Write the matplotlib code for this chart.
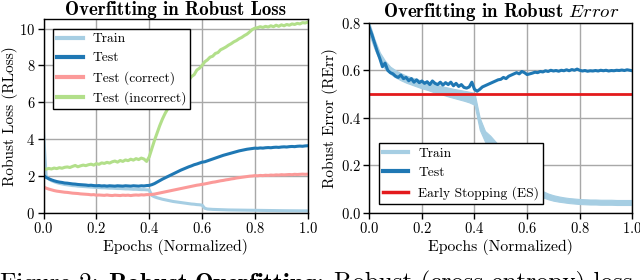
import numpy as np
import matplotlib
matplotlib.use("Agg")
import matplotlib.pyplot as plt
from matplotlib.lines import Line2D

plt.rcParams['font.family'] = ['cmr10', 'DejaVu Serif']
plt.rcParams['mathtext.fontset'] = 'cm'
plt.rcParams['axes.formatter.use_mathtext'] = True

epochs = np.linspace(0, 1, 101)
band_epochs = np.linspace(0, 1, 51)

loss_train = [4.35, 2.00, 1.85, 1.76, 1.70, 1.65, 1.61, 1.58, 1.55, 1.53,
              1.51, 1.49, 1.48, 1.46, 1.45, 1.44, 1.43, 1.42, 1.41, 1.40,
              1.39, 1.38, 1.37, 1.37, 1.36, 1.35, 1.35, 1.34, 1.33, 1.33,
              1.32, 1.31, 1.31, 1.30, 1.29, 1.29, 1.28, 1.27, 1.27, 1.26,
              1.25, 0.95, 0.88, 0.83, 0.79, 0.75, 0.72, 0.69, 0.66, 0.63,
              0.61, 0.59, 0.57, 0.55, 0.53, 0.51, 0.49, 0.48, 0.46, 0.45,
              0.43, 0.26, 0.22, 0.21, 0.20, 0.195, 0.19, 0.185, 0.18, 0.175,
              0.17, 0.168, 0.166, 0.164, 0.162, 0.16, 0.158, 0.156, 0.154, 0.152,
              0.15, 0.148, 0.146, 0.144, 0.142, 0.14, 0.138, 0.136, 0.134, 0.132,
              0.13, 0.128, 0.127, 0.126, 0.125, 0.124, 0.123, 0.122, 0.121, 0.12, 0.12]

loss_test = [2.05, 1.93, 1.86, 1.80, 1.75, 1.71, 1.68, 1.66, 1.63, 1.62,
             1.60, 1.58, 1.57, 1.55, 1.54, 1.53, 1.52, 1.50, 1.51, 1.49,
             1.48, 1.49, 1.47, 1.48, 1.46, 1.48, 1.47, 1.46, 1.48, 1.47,
             1.46, 1.48, 1.47, 1.46, 1.48, 1.47, 1.46, 1.48, 1.47, 1.49,
             1.50, 1.54, 1.60, 1.68, 1.76, 1.84, 1.91, 1.98, 2.05, 2.12,
             2.19, 2.26, 2.33, 2.39, 2.45, 2.51, 2.56, 2.62, 2.66, 2.71,
             2.76, 2.78, 2.83, 2.88, 2.93, 2.98, 3.03, 3.08, 3.13, 3.17,
             3.21, 3.25, 3.29, 3.33, 3.37, 3.40, 3.43, 3.46, 3.48, 3.50,
             3.52, 3.51, 3.53, 3.52, 3.54, 3.55, 3.54, 3.56, 3.57, 3.56,
             3.58, 3.59, 3.58, 3.60, 3.61, 3.60, 3.62, 3.63, 3.62, 3.64, 3.65]

loss_correct = [1.42, 1.35, 1.30, 1.26, 1.22, 1.19, 1.17, 1.15, 1.13, 1.12,
                1.10, 1.08, 1.07, 1.06, 1.04, 1.03, 1.02, 1.01, 0.99, 1.00,
                0.97, 0.98, 0.97, 0.96, 0.98, 0.96, 0.95, 0.97, 0.96, 0.95,
                0.97, 0.96, 0.97, 0.95, 0.97, 0.98, 0.97, 0.99, 0.98, 1.00,
                1.00, 1.01, 1.03, 1.06, 1.09, 1.12, 1.15, 1.18, 1.21, 1.24,
                1.27, 1.30, 1.33, 1.36, 1.39, 1.42, 1.45, 1.48, 1.51, 1.53,
                1.56, 1.58, 1.61, 1.64, 1.67, 1.69, 1.72, 1.75, 1.77, 1.80,
                1.82, 1.85, 1.87, 1.90, 1.92, 1.94, 1.96, 1.98, 2.00, 2.01,
                2.03, 2.02, 2.04, 2.03, 2.05, 2.04, 2.06, 2.05, 2.07, 2.06,
                2.08, 2.07, 2.08, 2.09, 2.08, 2.10, 2.09, 2.10, 2.11, 2.10, 2.11]

loss_incorrect = [2.40, 2.38, 2.42, 2.39, 2.44, 2.41, 2.46, 2.43, 2.48, 2.50,
                  2.47, 2.53, 2.58, 2.51, 2.56, 2.60, 2.57, 2.62, 2.65, 2.60,
                  2.68, 2.64, 2.72, 2.69, 2.75, 2.71, 2.78, 2.82, 2.76, 2.85,
                  2.80, 2.88, 2.84, 2.92, 2.87, 2.95, 2.90, 2.98, 2.93, 2.80,
                  3.05, 3.50, 3.95, 4.35, 4.75, 5.10, 5.40, 5.65, 5.90, 6.10,
                  6.30, 6.50, 6.65, 6.85, 7.00, 7.20, 7.40, 7.50, 7.75, 7.85,
                  8.00, 8.20, 8.30, 8.45, 8.50, 8.65, 8.70, 8.85, 8.92, 9.00,
                  9.10, 9.18, 9.28, 9.35, 9.45, 9.52, 9.62, 9.70, 9.82, 9.95,
                  10.02, 10.05, 10.10, 10.06, 10.12, 10.08, 10.15, 10.10, 10.18, 10.12,
                  10.20, 10.15, 10.22, 10.18, 10.25, 10.22, 10.28, 10.25, 10.32, 10.30, 10.35]

err_test = [0.78, 0.75, 0.715, 0.68, 0.65, 0.615, 0.63, 0.60, 0.59, 0.585,
            0.575, 0.57, 0.58, 0.565, 0.57, 0.556, 0.565, 0.55, 0.56, 0.548,
            0.555, 0.545, 0.552, 0.54, 0.555, 0.545, 0.54, 0.55, 0.538, 0.548,
            0.54, 0.55, 0.535, 0.545, 0.532, 0.54, 0.528, 0.525, 0.53, 0.55,
            0.52, 0.512, 0.52, 0.53, 0.535, 0.54, 0.545, 0.55, 0.555, 0.56,
            0.562, 0.57, 0.565, 0.575, 0.58, 0.585, 0.59, 0.585, 0.595, 0.59,
            0.582, 0.585, 0.588, 0.592, 0.59, 0.595, 0.593, 0.598, 0.595, 0.6,
            0.597, 0.599, 0.596, 0.6, 0.598, 0.602, 0.598, 0.603, 0.6, 0.605,
            0.6, 0.597, 0.599, 0.596, 0.598, 0.597, 0.599, 0.597, 0.6, 0.598,
            0.6, 0.597, 0.599, 0.598, 0.6, 0.599, 0.601, 0.599, 0.602, 0.6, 0.598]

err_train_low = [0.75, 0.69, 0.64, 0.605, 0.585, 0.57, 0.558, 0.548, 0.54, 0.532,
                 0.524, 0.518, 0.51, 0.503, 0.497, 0.49, 0.484, 0.478, 0.472, 0.465,
                 0.455, 0.35, 0.30, 0.28, 0.255, 0.235, 0.22, 0.205, 0.19, 0.175,
                 0.15, 0.085, 0.075, 0.066, 0.058, 0.052, 0.048, 0.045, 0.042, 0.04,
                 0.038, 0.037, 0.036, 0.036, 0.035, 0.035, 0.035, 0.034, 0.034, 0.034, 0.034]
err_train_high = [0.80, 0.73, 0.675, 0.64, 0.615, 0.6, 0.588, 0.578, 0.57, 0.563,
                  0.556, 0.55, 0.544, 0.538, 0.532, 0.527, 0.522, 0.518, 0.514, 0.51,
                  0.505, 0.40, 0.345, 0.325, 0.30, 0.275, 0.26, 0.245, 0.235, 0.225,
                  0.21, 0.118, 0.105, 0.092, 0.082, 0.075, 0.07, 0.066, 0.063, 0.061,
                  0.059, 0.058, 0.057, 0.057, 0.056, 0.056, 0.056, 0.055, 0.055, 0.055, 0.055]

early_stop = 0.5

c_train = '#a6cee3'
c_test = '#1f78b4'
c_corr = '#fb9a99'
c_inc = '#b2df8a'
c_es = '#e31a1c'

fig = plt.figure(figsize=(6.4, 2.8), dpi=100)
ax1 = fig.add_axes([0.068, 0.239, 0.413, 0.692])
ax2 = fig.add_axes([0.577, 0.239, 0.411, 0.680])

def style(ax):
    ax.grid(True, color='#a8a8a8', lw=1.0)
    ax.set_axisbelow(True)
    for s in ax.spines.values():
        s.set_color('black')
        s.set_linewidth(1.0)
    ax.tick_params(direction='out', length=4, width=1, labelsize=10.5, pad=2)
    ax.set_xlim(0, 1)
    ax.set_xticks([0, 0.2, 0.4, 0.6, 0.8, 1.0])
    ax.set_xlabel('Epochs (Normalized)', fontsize=11.3, labelpad=2)

leg_kw = dict(fontsize=9.7, frameon=True, fancybox=False, edgecolor='black',
              framealpha=1, handlelength=1.9, borderaxespad=0.7, labelspacing=0.5,
              handletextpad=0.75, borderpad=0.3)

ax1.plot(epochs, loss_train, color=c_train, lw=2.2, label='Train')
ax1.plot(epochs, loss_test, color=c_test, lw=2.2, label='Test')
ax1.plot(epochs, loss_correct, color=c_corr, lw=2.2, label='Test (correct)')
ax1.plot(epochs, loss_incorrect, color=c_inc, lw=2.2, label='Test (incorrect)')
style(ax1)
ax1.set_ylim(0, 10.5)
ax1.set_yticks([0, 2, 4, 6, 8, 10])
ax1.set_ylabel('Robust Loss (RLoss)', fontsize=11, labelpad=1)
ax1.set_title('Overfitting in Robust Loss', fontsize=13.6, family='cmb10', pad=2)
leg1 = ax1.legend(loc='upper left', **leg_kw)
leg1.get_frame().set_linewidth(1.0)
for l in leg1.get_lines():
    l.set_linewidth(3)

ax2.fill_between(band_epochs, err_train_low, err_train_high, color=c_train, lw=0.8,
                 edgecolor=c_train, label='Train')
ax2.plot(epochs, err_test, color=c_test, lw=2.2, label='Test')
ax2.axhline(early_stop, color=c_es, lw=2, label='Early Stopping (ES)')
style(ax2)
ax2.set_ylim(0, 0.8)
ax2.set_yticks([0, 0.2, 0.4, 0.6, 0.8])
ax2.set_ylabel('Robust Error (RErr)', fontsize=11, labelpad=2)
ax2.set_title(r'Overfitting in Robust $\mathit{Error}$', fontsize=13.6, family='cmb10', pad=2)
handles = [Line2D([], [], color=c_train, lw=3), Line2D([], [], color=c_test, lw=3),
           Line2D([], [], color=c_es, lw=2.5)]
leg2 = ax2.legend(handles, ['Train', 'Test', 'Early Stopping (ES)'], loc='lower left',
                  **leg_kw)
leg2.get_frame().set_linewidth(1.0)

cap_y = -0.035
fig.text(0.0, cap_y, 'Figure 2:', fontsize=18, ha='left', va='baseline')
fig.text(108 / 640, cap_y, r'$\mathbf{Robust\ Overfitting\!:}$', fontsize=18,
         ha='left', va='baseline')
fig.text(334 / 640, cap_y, 'Robust (cross-entropy) loss', fontsize=18,
         ha='left', va='baseline')

fig.savefig('out.png', dpi=100)
